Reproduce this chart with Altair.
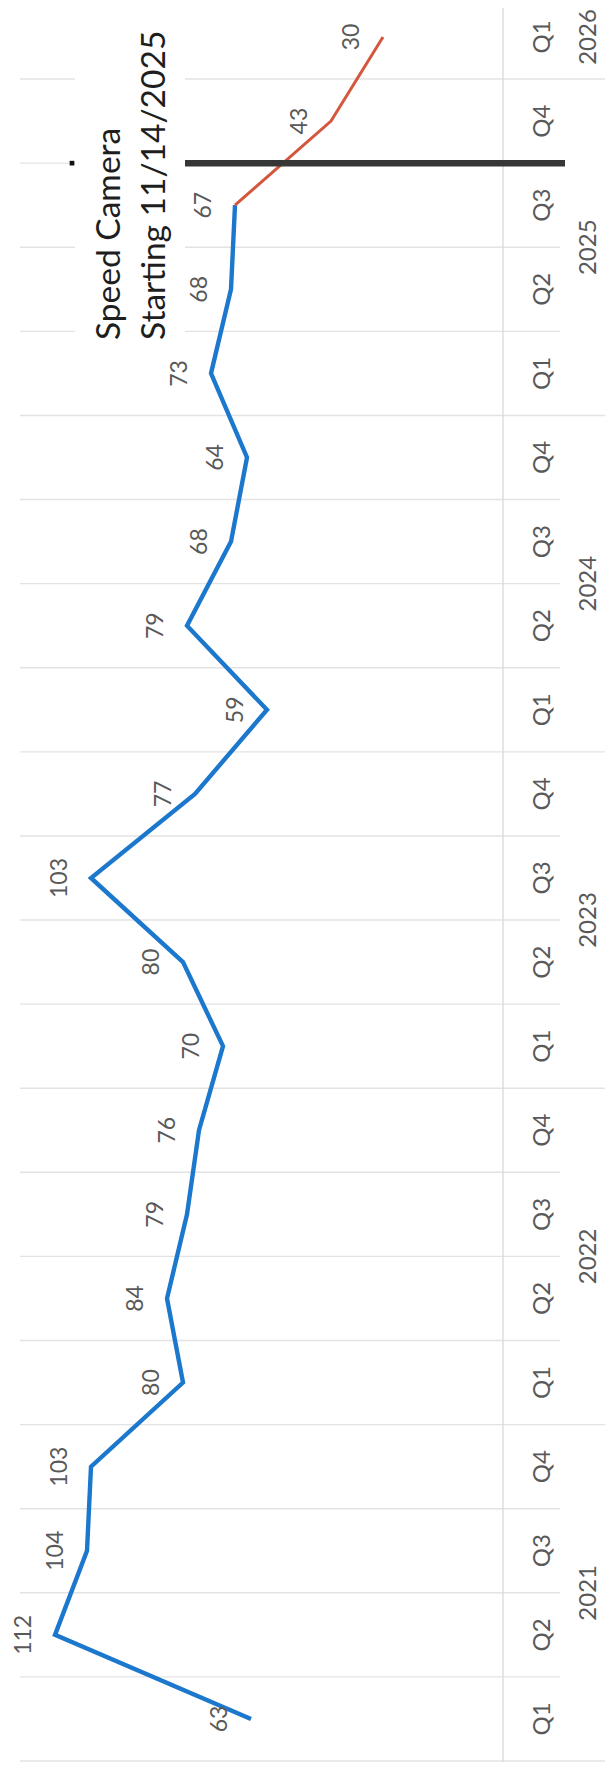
import altair as alt
import pandas as pd

# ---- data ----
quarters = ["Q1", "Q2", "Q3", "Q4"] * 5 + ["Q1"]
quarter_years = ["2021"] * 4 + ["2022"] * 4 + ["2023"] * 4 + ["2024"] * 4 + ["2025"] * 4 + ["2026"]
values = [63, 112, 104, 103,
          80, 84, 79, 76,
          70, 80, 103, 77,
          59, 79, 68, 64,
          73, 68, 67, 43,
          30]
last_before_camera = 18          # 2025 Q3 -> last blue point
camera_boundary = 18.5           # between 2025 Q3 and 2025 Q4
annotation_lines = ["Speed Camera", "Starting 11/14/2025"]

# ---- frames ----
n = len(values)
df = pd.DataFrame({"idx": list(range(n)), "value": values,
                   "quarter": quarters, "year": quarter_years})
before = df[df["idx"] <= last_before_camera]
after = df[df["idx"] >= last_before_camera]

q_bounds, y_bounds = [], []
for k in range(-1, n - 1):
    b = k + 0.5
    if k == -1 or quarter_years[k] != quarter_years[k + 1]:
        y_bounds.append(b)
    else:
        q_bounds.append(b)
q_df = pd.DataFrame({"idx": q_bounds})
y_df = pd.DataFrame({"idx": y_bounds})
years_df = df.groupby("year", as_index=False)["idx"].mean()
cam_df = pd.DataFrame({"idx": [camera_boundary]})
one = pd.DataFrame({"v": [0]})

W, H = 597, 1754
X = alt.Scale(domain=[-25.5, 123.75], reverse=True, nice=False, zero=False)
Y = alt.Scale(domain=[-0.512, 20.345], nice=False, zero=False)

FONT = "Lato"
GRAY = "#595959"
GRID = "#e3e3e3"

yq = alt.Y("idx:Q", scale=Y, axis=None)

grid_q = alt.Chart(q_df).mark_rule(color=GRID, strokeWidth=1.4).encode(
    x=alt.value(12), x2=alt.value(552), y=yq)
grid_y = alt.Chart(y_df).mark_rule(color=GRID, strokeWidth=1.4).encode(
    x=alt.value(12), x2=alt.value(W), y=yq)
axis_line = alt.Chart(one).mark_rule(color="#d9d9d9", strokeWidth=1.3).encode(
    x=alt.X(datum=0, scale=X, axis=None))

white_box = alt.Chart(one).mark_rect(color="white").encode(
    x=alt.value(67), x2=alt.value(177), y=alt.value(0), y2=alt.value(337))

line_before = alt.Chart(before).mark_line(color="#1c78cc", strokeWidth=4.4).encode(
    x=alt.X("value:Q", scale=X, axis=None), y=yq, order="idx:Q")
line_after = alt.Chart(after).mark_line(color="#d4573d", strokeWidth=3).encode(
    x=alt.X("value:Q", scale=X, axis=None), y=yq, order="idx:Q")

cam_line = alt.Chart(cam_df).mark_rule(color="#363636", strokeWidth=6.5).encode(
    x=alt.value(177), x2=alt.value(557), y=yq)
cam_dot = alt.Chart(cam_df).mark_square(size=22, color="#111111", opacity=1).encode(
    x=alt.value(64), y=yq)

data_labels = alt.Chart(df).mark_text(
    angle=270, align="center", baseline="middle", dy=-31,
    font=FONT, fontSize=23, color=GRAY).encode(
    x=alt.X("value:Q", scale=X, axis=None), y=yq, text="value:Q")

q_labels = alt.Chart(df).mark_text(
    angle=270, align="center", baseline="middle",
    font=FONT, fontSize=24, color=GRAY).encode(
    x=alt.value(535), y=yq, text="quarter:N")

year_labels = alt.Chart(years_df).mark_text(
    angle=270, align="center", baseline="middle",
    font=FONT, fontSize=24, color=GRAY).encode(
    x=alt.value(581), y=yq, text="year:N")

annotation = alt.Chart(one).mark_text(
    angle=270, align="left", baseline="alphabetic", lineHeight=45,
    font=FONT, fontSize=33.5, color="#1e1e1e", text=annotation_lines).encode(
    x=alt.value(112), y=alt.value(332))

chart = alt.layer(
    grid_q, grid_y, axis_line, white_box, line_before, line_after,
    cam_line, cam_dot, data_labels, q_labels, year_labels, annotation
).properties(
    width=W, height=H, padding=0,
    autosize=alt.AutoSizeParams(type="none"),
    background="white",
).configure_view(stroke=None)

chart.save("out.html", embed_options={"renderer": "svg", "actions": False})
